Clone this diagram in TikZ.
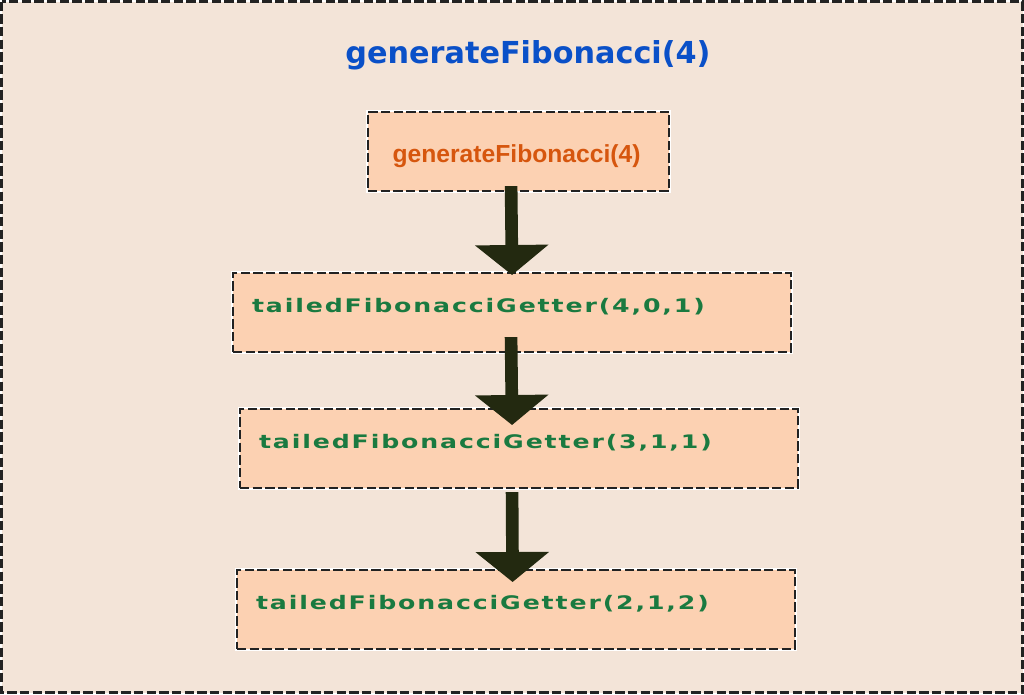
\documentclass[tikz,border=0pt]{standalone}
\usepackage{fontspec}
\usetikzlibrary{arrows.meta,calc}
\newfontfamily\titlefont{DejaVu Sans}
\newfontfamily\topfont{Liberation Sans}
\newfontfamily\boxfont[LetterSpace=10,FakeStretch=1.35]{DejaVu Sans}
\definecolor{bgc}{HTML}{F3E4D8}
\definecolor{boxc}{HTML}{FCD1B2}
\definecolor{greenc}{HTML}{1A7A40}
\definecolor{orangec}{HTML}{D6560E}
\definecolor{bluec}{HTML}{0A50C8}
\definecolor{arrowc}{HTML}{232910}
\definecolor{linec}{HTML}{222222}
\tikzset{
  dashframe/.style={draw=linec, line width=1.6pt, dash pattern=on 7pt off 2.5pt,
    preaction={draw=white, line width=2.4pt, solid}},
  callbox/.style={dashframe, fill=boxc, anchor=north west, inner xsep=14.25pt, inner ysep=0pt,
    text width=390pt, align=left, text height=29.25pt, text depth=30pt,
    font=\boxfont\bfseries\fontsize{14pt}{16pt}\selectfont, text=greenc},
  bigarrow/.style={draw=arrowc, line width=9.5pt, -{Triangle[width=54pt,length=22.5pt]}}
}
\begin{document}
\begin{tikzpicture}[x=0.75pt,y=-0.75pt]
\useasboundingbox (0,0) rectangle (1024,694);
\path[dashframe, fill=bgc] (1.5,1.5) rectangle (1022.5,692.5);
\node[font=\titlefont\bfseries\fontsize{22.7pt}{26pt}\selectfont, text=bluec, anchor=base] (title) at (528,63) {generateFibonacci(4)};
\node[dashframe, fill=boxc, anchor=north west, minimum width=225.75pt, inner sep=0pt,
  text height=37.5pt, text depth=21.75pt, font=\topfont\bfseries\fontsize{18.5pt}{21pt}\selectfont, text=orangec] (b1) at (367,111) {generateFibonacci(4)\hspace*{3pt}};
\node[callbox] (b2) at (232,272) {tailedFibonacciGetter(4,0,1)};
\node[callbox] (b3) at (239,408) {tailedFibonacciGetter(3,1,1)};
\node[callbox] (b4) at (236,569) {tailedFibonacciGetter(2,1,2)};
\draw[bigarrow] ([xshift=-5.6pt,yshift=4.5pt]b1.south) -- ([yshift=-2.25pt]b2.north);
\draw[bigarrow] ([xshift=-0.75pt,yshift=12pt]b2.south) -- ([xshift=-5.25pt,yshift=-12.75pt]b3.north);
\draw[bigarrow] ([xshift=-5.25pt,yshift=-2.25pt]b3.south) -- ([xshift=-2.6pt,yshift=-9.75pt]b4.north);
\end{tikzpicture}
\end{document}
